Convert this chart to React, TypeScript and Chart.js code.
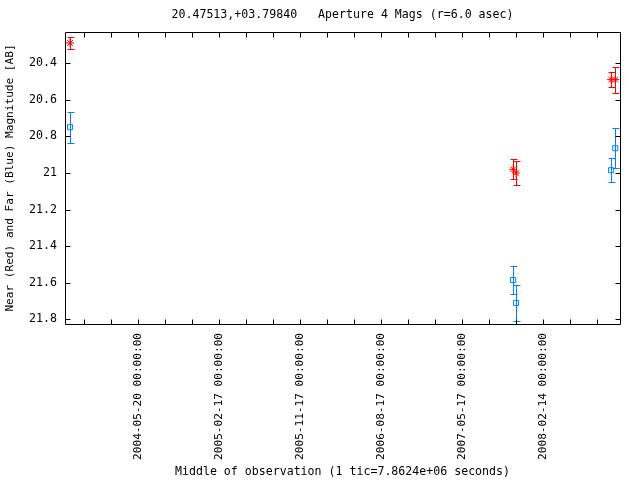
import React, { useEffect, useRef } from "react";
import { Chart, registerables } from "chart.js";

Chart.register(...registerables);

const titleText = "20.47513,+03.79840   Aperture 4 Mags (r=6.0 asec)";
const xAxisTitle = "Middle of observation (1 tic=7.8624e+06 seconds)";
const yAxisTitle = "Near (Red) and Far (Blue) Magnitude [AB]";

// Near (red) aperture magnitudes
const nearDates = ["2003-10-04", "2007-11-05", "2007-11-15", "2008-09-30", "2008-10-14"];
const nearMags = [20.29, 20.98, 21.0, 20.49, 20.49];
const nearErrs = [0.035, 0.055, 0.065, 0.041, 0.071];

// Far (blue) aperture magnitudes
const farDates = ["2003-10-04", "2007-11-05", "2007-11-15", "2008-09-30", "2008-10-14"];
const farMags = [20.75, 21.585, 21.71, 20.985, 20.865];
const farErrs = [0.085, 0.077, 0.1, 0.065, 0.11];

const yTickValues = [20.4, 20.6, 20.8, 21.0, 21.2, 21.4, 21.6, 21.8];
const yMin = 20.23;
const yMax = 21.825;

const xMinDate = "2003-09-17";
const xMaxDate = "2008-10-30";
const xTickStartDate = "2003-11-20";
const xTickStepDays = 91;
const xLabelEvery = 3;
const xLabelPhase = 2;

const DAY = 86400000;
const FONT = "'DejaVu Sans Mono', monospace";
const RED = "#ff0000";
const BLUE = "#0080ff";

const toMs = (d: string) => Date.parse(d + "T00:00:00Z");
const pad2 = (n: number) => (n < 10 ? "0" : "") + n;
const fmtDate = (ms: number) => {
  const d = new Date(ms);
  return `${d.getUTCFullYear()}-${pad2(d.getUTCMonth() + 1)}-${pad2(d.getUTCDate())} 00:00:00`;
};

const buildPoints = (dates: string[], mags: number[], errs: number[]) =>
  dates.map((d, i) => ({ x: toMs(d), y: mags[i], err: errs[i] }));

const TICK_LEN = 5;

const framePlugin = {
  id: "gnuframe",
  beforeDatasetsDraw(chart: any) {
    const ctx = chart.ctx;
    const xs = chart.scales.x;
    const ys = chart.scales.y;
    chart.data.datasets.forEach((ds: any) => {
      ctx.save();
      ctx.strokeStyle = ds.borderColor;
      ctx.lineWidth = 1;
      ds.data.forEach((p: any) => {
        const px = Math.round(xs.getPixelForValue(p.x)) + 0.5;
        const y1 = Math.round(ys.getPixelForValue(p.y - p.err)) + 0.5;
        const y2 = Math.round(ys.getPixelForValue(p.y + p.err)) + 0.5;
        ctx.beginPath();
        ctx.moveTo(px, y1);
        ctx.lineTo(px, y2);
        ctx.moveTo(px - 3, y1);
        ctx.lineTo(px + 4, y1);
        ctx.moveTo(px - 3, y2);
        ctx.lineTo(px + 4, y2);
        ctx.stroke();
      });
      ctx.restore();
    });
  },
  afterDraw(chart: any) {
    const ctx = chart.ctx;
    const a = chart.chartArea;
    const xs = chart.scales.x;
    const ys = chart.scales.y;
    const L = Math.round(a.left) + 0.5;
    const R = Math.round(a.right) + 0.5;
    const T = Math.round(a.top) + 0.5;
    const B = Math.round(a.bottom) + 0.5;
    ctx.save();
    ctx.strokeStyle = "#000";
    ctx.lineWidth = 1;
    ctx.beginPath();
    ctx.rect(L, T, R - L, B - T);
    xs.ticks.forEach((t: any) => {
      const px = Math.round(xs.getPixelForValue(t.value)) + 0.5;
      ctx.moveTo(px, B);
      ctx.lineTo(px, B - TICK_LEN);
      ctx.moveTo(px, T);
      ctx.lineTo(px, T + TICK_LEN);
    });
    ys.ticks.forEach((t: any) => {
      const py = Math.round(ys.getPixelForValue(t.value)) + 0.5;
      ctx.moveTo(L, py);
      ctx.lineTo(L + TICK_LEN, py);
      ctx.moveTo(R, py);
      ctx.lineTo(R - TICK_LEN, py);
    });
    ctx.stroke();

    // titles
    ctx.fillStyle = "#000";
    ctx.textBaseline = "middle";
    ctx.font = `11.6px ${FONT}`;
    ctx.textAlign = "center";
    const cx = (a.left + a.right) / 2;
    ctx.fillText(titleText, cx, 15);
    ctx.fillText(xAxisTitle, cx, 472);
    ctx.save();
    ctx.font = `11.1px ${FONT}`;
    ctx.translate(10, (a.top + a.bottom) / 2);
    ctx.rotate(-Math.PI / 2);
    ctx.textAlign = "center";
    ctx.fillText(yAxisTitle, 0, 0);
    ctx.restore();
    ctx.restore();
  },
};

export default function App() {
  const ref = useRef<HTMLCanvasElement | null>(null);

  useEffect(() => {
    if (!ref.current) return;
    const xStart = toMs(xTickStartDate);
    const xStep = xTickStepDays * DAY;
    const xMin = toMs(xMinDate);
    const xMax = toMs(xMaxDate);

    const chart = new Chart(ref.current, {
      type: "scatter",
      data: {
        datasets: [
          {
            label: "Near",
            data: buildPoints(nearDates, nearMags, nearErrs),
            borderColor: RED,
            backgroundColor: RED,
            pointStyle: "star",
            pointRadius: 4,
            pointBorderWidth: 1,
          },
          {
            label: "Far",
            data: buildPoints(farDates, farMags, farErrs),
            borderColor: BLUE,
            backgroundColor: "rgba(0,0,0,0)",
            pointStyle: "rect",
            pointRadius: 3.6,
            pointBorderWidth: 1,
          },
        ] as any,
      },
      options: {
        animation: false,
        responsive: false,
        devicePixelRatio: 1,
        layout: { padding: { left: 0, right: 20, top: 32, bottom: 0 } },
        plugins: {
          legend: { display: false },
          tooltip: { enabled: false },
          title: { display: false },
        },
        scales: {
          x: {
            type: "linear",
            min: xMin,
            max: xMax,
            grid: { display: false, drawTicks: false },
            border: { display: false },
            afterBuildTicks: (scale: any) => {
              const ticks: any[] = [];
              for (let v = xStart; v <= xMax; v += xStep) ticks.push({ value: v });
              scale.ticks = ticks;
            },
            afterFit: (scale: any) => {
              scale.height = 156;
            },
            ticks: {
              autoSkip: false,
              minRotation: 90,
              maxRotation: 90,
              padding: 9,
              color: "#000",
              font: { family: FONT, size: 11.1 },
              callback: (value: any) => {
                const k = Math.round((Number(value) - xStart) / xStep);
                return k % xLabelEvery === xLabelPhase ? fmtDate(Number(value)) : "";
              },
            },
            title: { display: false },
          },
          y: {
            type: "linear",
            reverse: true,
            min: yMin,
            max: yMax,
            grid: { display: false, drawTicks: false },
            border: { display: false },
            afterBuildTicks: (scale: any) => {
              scale.ticks = yTickValues.map((v) => ({ value: v }));
            },
            afterFit: (scale: any) => {
              scale.width = 65;
            },
            ticks: {
              padding: 8,
              color: "#000",
              font: { family: FONT, size: 11.6 },
              callback: (value: any) => String(Number(Number(value).toFixed(2))),
            },
            title: { display: false },
          },
        },
      },
      plugins: [framePlugin],
    });
    return () => chart.destroy();
  }, []);

  return (
    <div style={{ position: "fixed", left: 0, top: 0, width: 640, height: 480, background: "#fff" }}>
      <canvas ref={ref} width={640} height={480} style={{ width: 640, height: 480 }} />
    </div>
  );
}
